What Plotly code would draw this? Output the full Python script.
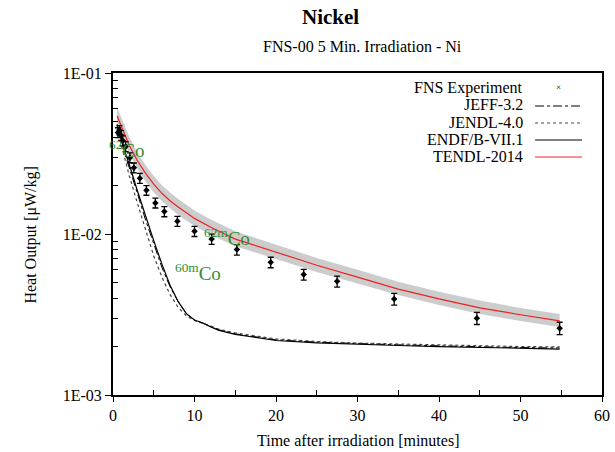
import plotly.graph_objects as go

# ---------------- data ----------------
exp_t = [0.6, 0.8, 1.0, 1.2, 1.55, 2.07, 2.56, 3.3, 4.1, 5.2, 6.3, 7.9, 10.0, 12.1, 15.2,
         19.35, 23.4, 27.5, 34.5, 44.65, 54.8]
exp_v = [0.0427, 0.0441, 0.0410, 0.0380, 0.0350, 0.0298, 0.0258, 0.0222, 0.0187, 0.0156,
         0.0138, 0.0120, 0.0104, 0.0093, 0.0080, 0.00667, 0.0056, 0.00508, 0.00395,
         0.0030, 0.0026]
exp_err = [0.0030, 0.0030, 0.0029, 0.0027, 0.0025, 0.0021, 0.0018, 0.0016, 0.0013, 0.0011,
           0.0010, 0.00085, 0.00075, 0.00068, 0.00060, 0.00050, 0.00043, 0.00040, 0.00033,
           0.00026, 0.00023]

t_tendl = [0.5, 1, 1.5, 2, 3, 4, 5, 6, 7, 8, 10, 12, 15, 20, 25, 30, 35, 40, 45, 50, 54.8]
tendl = [0.054, 0.047, 0.040, 0.0355, 0.0285, 0.0238, 0.0204, 0.0179, 0.0161, 0.0147,
         0.0125, 0.0110, 0.0093, 0.0077, 0.0064, 0.0054, 0.00455, 0.00395, 0.00348,
         0.00315, 0.00289]
tendl_hi = [0.061, 0.053, 0.045, 0.040, 0.0320, 0.0267, 0.0229, 0.0201, 0.0181, 0.0165,
            0.0140, 0.0123, 0.0104, 0.0086, 0.0071, 0.0060, 0.00505, 0.00438, 0.00386,
            0.00347, 0.00318]
tendl_lo = [0.048, 0.042, 0.0355, 0.0315, 0.0254, 0.0212, 0.0182, 0.0160, 0.0144, 0.0131,
            0.0112, 0.0099, 0.0084, 0.0070, 0.0058, 0.0049, 0.00418, 0.00362, 0.00319,
            0.00288, 0.00264]

t_lib = [0.5, 1, 1.5, 2, 3, 4, 5, 6, 7, 8, 9, 10, 11, 12, 13, 15, 20, 25, 30, 35, 40,
         45, 50, 54.8]
endf = [0.048, 0.040, 0.032, 0.027, 0.0185, 0.0128, 0.0091, 0.0065, 0.0048, 0.0038,
        0.0032, 0.00292, 0.0028, 0.00265, 0.00252, 0.00238, 0.00218, 0.00211, 0.00206,
        0.00203, 0.00200, 0.00197, 0.00195, 0.00193]
jeff = [0.047, 0.039, 0.031, 0.026, 0.0178, 0.0122, 0.0087, 0.0062, 0.0047, 0.0038,
        0.0032, 0.00292, 0.0028, 0.00266, 0.00254, 0.00240, 0.00220, 0.00213, 0.00208,
        0.00205, 0.00202, 0.00199, 0.00197, 0.00196]
jendl = [0.045, 0.036, 0.028, 0.023, 0.0155, 0.0105, 0.0073, 0.0054, 0.0042, 0.0035,
         0.0031, 0.0029, 0.0028, 0.00268, 0.00256, 0.00243, 0.00223, 0.00215, 0.00210,
         0.00207, 0.00204, 0.00202, 0.00200, 0.00199]

legend_labels = ["FNS Experiment", "JEFF-3.2", "JENDL-4.0", "ENDF/B-VII.1", "TENDL-2014"]
x_tickvals = [0, 10, 20, 30, 40, 50, 60]
x_minor = [5, 15, 25, 35, 45, 55]
y_tickvals = [0.001, 0.01, 0.1]
y_ticktext = ["1E-03", "1E-02", "1E-01"]
y_minor = [k * 1e-3 for k in range(2, 10)] + [k * 1e-2 for k in range(2, 10)]

# ---------------- geometry ----------------
W, H = 615, 452
L, R, T, B = 112.5, 602, 73, 395
def px(x):
    return (x - L) / (R - L)
def py(y):
    return (B - y) / (B - T)

FONT = "Liberation Serif"
GREEN = "#2f8f2f"

fig = go.Figure()

fig.add_trace(go.Scatter(x=t_tendl + t_tendl[::-1], y=tendl_hi + tendl_lo[::-1],
                         fill="toself", fillcolor="rgb(204,204,204)",
                         line=dict(width=0), mode="lines", hoverinfo="skip",
                         showlegend=False))
fig.add_trace(go.Scatter(x=t_lib, y=jeff, mode="lines",
                         line=dict(color="black", width=1, dash="dashdot"),
                         showlegend=False))
fig.add_trace(go.Scatter(x=t_lib, y=jendl, mode="lines",
                         line=dict(color="#444444", width=1.2, dash="dot"),
                         showlegend=False))
fig.add_trace(go.Scatter(x=t_lib, y=endf, mode="lines",
                         line=dict(color="black", width=1.2),
                         showlegend=False))
fig.add_trace(go.Scatter(x=t_tendl, y=tendl, mode="lines",
                         line=dict(color="#ee2222", width=1.2),
                         showlegend=False))
fig.add_trace(go.Scatter(x=exp_t, y=exp_v, mode="markers",
                         marker=dict(symbol="diamond", size=5, color="black"),
                         error_y=dict(type="data", array=exp_err, visible=True,
                                      color="black", thickness=1.3, width=3),
                         showlegend=False))

leg_y = [88, 105, 122, 139, 156]
ann = []
for lab, yy in zip(legend_labels, leg_y):
    ann.append(dict(x=px(525), y=py(yy), xref="paper", yref="paper", text=lab,
                    showarrow=False, xanchor="right", yanchor="middle",
                    font=dict(family=FONT, size=16, color="black")))
ann.append(dict(x=px(558), y=py(leg_y[0] - 1), xref="paper", yref="paper", text="×",
                showarrow=False, xanchor="center", yanchor="middle",
                font=dict(family=FONT, size=9, color="black")))
shapes = []
styles = [dict(color="black", width=1, dash="dashdot"),
          dict(color="#444444", width=1.2, dash="dot"),
          dict(color="black", width=1.2),
          dict(color="#ee2222", width=1.2)]
for st, yy in zip(styles, leg_y[1:]):
    shapes.append(dict(type="line", xref="paper", yref="paper",
                       x0=px(535), x1=px(582), y0=py(yy + 1), y1=py(yy + 1), line=st))

for txt, xx, yy in [("<sup>62</sup>Co", 126, 149), ("<sup>62m</sup>Co", 227, 237),
                    ("<sup>60m</sup>Co", 198, 272)]:
    ann.append(dict(x=px(xx), y=py(yy), xref="paper", yref="paper", text=txt,
                    showarrow=False, xanchor="center", yanchor="middle",
                    font=dict(family=FONT, size=19, color=GREEN)))

ann.append(dict(x=px(330), y=py(17), xref="paper", yref="paper", text="<b>Nickel</b>",
                showarrow=False, xanchor="center", yanchor="middle",
                font=dict(family=FONT, size=21, color="black")))
ann.append(dict(x=px(362), y=py(46), xref="paper", yref="paper",
                text="FNS-00 5 Min. Irradiation - Ni",
                showarrow=False, xanchor="center", yanchor="middle",
                font=dict(family=FONT, size=16, color="black")))
ann.append(dict(x=px(358), y=py(440), xref="paper", yref="paper",
                text="Time after irradiation [minutes]",
                showarrow=False, xanchor="center", yanchor="middle",
                font=dict(family=FONT, size=16, color="black")))
ann.append(dict(x=px(30), y=py(235), xref="paper", yref="paper",
                text="Heat Output [μW/kg]", textangle=-90,
                showarrow=False, xanchor="center", yanchor="middle",
                font=dict(family=FONT, size=16, color="black")))

fig.update_layout(
    width=W, height=H,
    margin=dict(l=L, r=W - R, t=T, b=H - B, autoexpand=False),
    paper_bgcolor="white", plot_bgcolor="white",
    annotations=ann, shapes=shapes,
    font=dict(family=FONT, size=15, color="black"),
)
fig.update_xaxes(range=[0, 60], tickmode="array", tickvals=x_tickvals,
                 ticks="outside", ticklen=5, tickwidth=1.2, tickcolor="black",
                 minor=dict(tickvals=x_minor, ticks="inside",
                            ticklen=5, tickcolor="black", tickwidth=1.2),
                 showgrid=False, zeroline=False, showline=True, linewidth=2,
                 linecolor="black", mirror=True, automargin=False,
                 tickfont=dict(family=FONT, size=16))
fig.update_yaxes(type="log", range=[-3, -1], tickmode="array", tickvals=y_tickvals,
                 ticktext=y_ticktext, ticks="outside", ticklen=6, tickwidth=1.2,
                 tickcolor="black",
                 minor=dict(tickvals=y_minor, ticks="inside", ticklen=5,
                            tickcolor="black", tickwidth=1.2),
                 showgrid=False, zeroline=False, showline=True, linewidth=2,
                 linecolor="black", mirror=True, automargin=False,
                 tickfont=dict(family=FONT, size=16))

fig.write_html("out.html")
